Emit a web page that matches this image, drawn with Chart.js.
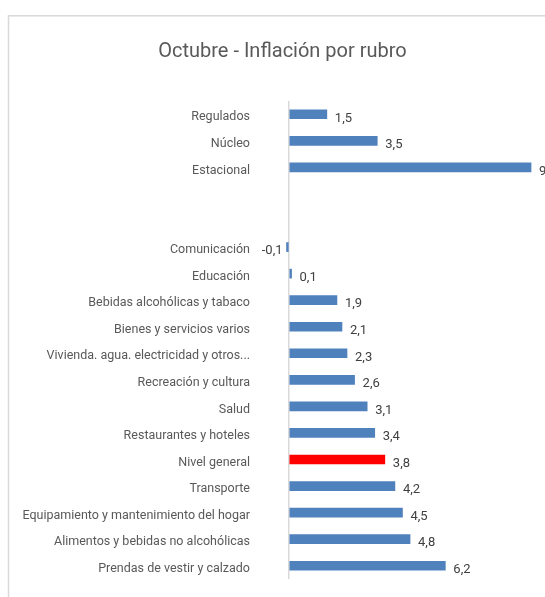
<!DOCTYPE html>
<html>
<head>
<meta charset="utf-8">
<script src="https://cdn.jsdelivr.net/npm/chart.js@4"></script>
<style>
  html, body { margin: 0; padding: 0; overflow: hidden; background: #fff; }
  #wrap { width: 545px; height: 597px; overflow: hidden; }
</style>
</head>
<body>
<div id="wrap"><canvas id="rubro_chart" width="565" height="597"></canvas></div>
<script>
const rubros = ['Regulados', 'Núcleo', 'Estacional', '', '',
  'Comunicación', 'Educación', 'Bebidas alcohólicas y tabaco', 'Bienes y servicios varios',
  'Vivienda. agua. electricidad y otros...', 'Recreación y cultura', 'Salud',
  'Restaurantes y hoteles', 'Nivel general', 'Transporte',
  'Equipamiento y mantenimiento del hogar', 'Alimentos y bebidas no alcohólicas',
  'Prendas de vestir y calzado'];
const inflacion = [1.5, 3.5, 9.6, null, null, -0.1, 0.1, 1.9, 2.1, 2.3, 2.6, 3.1, 3.4, 3.8, 4.2, 4.5, 4.8, 6.2];
const destacado = 'Nivel general';

const labelFont = 'Roboto, "Liberation Sans", sans-serif';

// marco gris del grafico (solo se ven borde izquierdo y superior)
const marco = {
  id: 'marco',
  beforeDraw(chart) {
    const c = chart.ctx;
    c.save();
    c.strokeStyle = '#d9d9d9';
    c.lineWidth = 1.5;
    c.strokeRect(8.5, 15.8, 548, 700);
    c.restore();
  }
};

// etiquetas de valor al final de cada barra
const etiquetas = {
  id: 'etiquetas',
  afterDatasetsDraw(chart) {
    const c = chart.ctx;
    const meta = chart.getDatasetMeta(0);
    c.save();
    c.font = '13px ' + labelFont;
    c.fillStyle = '#404040';
    c.textBaseline = 'middle';
    meta.data.forEach((bar, i) => {
      const v = inflacion[i];
      if (v === null) return;
      const txt = v.toFixed(1).replace('.', ',');
      if (v >= 0) {
        c.textAlign = 'left';
        c.fillText(txt, bar.x + 8, bar.y + 4);
      } else {
        c.textAlign = 'right';
        c.fillText(txt, bar.x - 4, bar.y + 4);
      }
    });
    c.restore();
  }
};

const ctx = document.getElementById('rubro_chart').getContext('2d');

new Chart(ctx, {
  type: 'bar',
  data: {
    labels: rubros,
    datasets: [{
      data: inflacion,
      backgroundColor: rubros.map(r => r === destacado ? '#ff0000' : '#4f81bd'),
      barThickness: 9,
      borderWidth: 0
    }]
  },
  options: {
    indexAxis: 'y',
    responsive: false,
    animation: false,
    layout: { padding: { left: 8, right: 8, top: 0, bottom: 18 } },
    plugins: {
      legend: { display: false },
      tooltip: { enabled: false },
      title: {
        display: true,
        text: 'Octubre - Inflación por rubro',
        color: '#595959',
        font: { family: labelFont, size: 20, weight: 'normal', lineHeight: 1.2 },
        padding: { top: 40, bottom: 37 }
      }
    },
    scales: {
      x: {
        min: -0.2,
        max: 10.63,
        afterBuildTicks: s => { s.ticks = [{ value: 0 }]; },
        afterFit: s => { s.height = 0; },
        ticks: { display: false },
        border: { display: false },
        grid: { color: '#d9d9d9', lineWidth: 1.5, drawTicks: false }
      },
      y: {
        afterFit: s => {
          s.width = 276;
          s.paddingTop = 0;
          s.paddingBottom = 0;
        },
        border: { display: false },
        grid: { display: false, drawTicks: false },
        ticks: {
          color: '#595959',
          padding: 34,
          labelOffset: 3,
          autoSkip: false,
          font: { family: labelFont, size: 12.5 }
        }
      }
    }
  },
  plugins: [marco, etiquetas]
});
</script>
</body>
</html>
